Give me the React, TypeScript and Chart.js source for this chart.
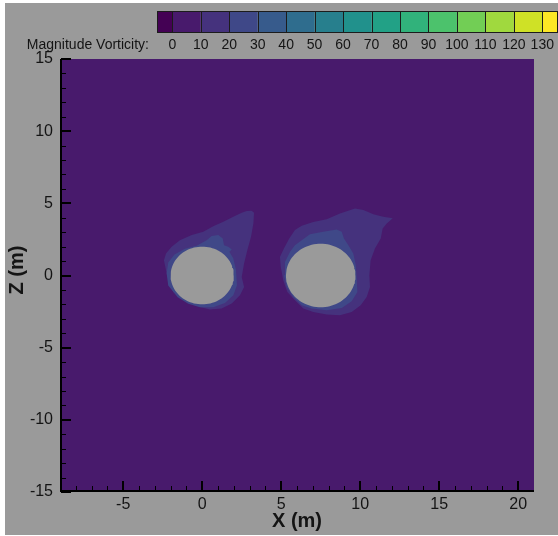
import { useEffect, useRef } from 'react';
import { Chart, registerables } from 'chart.js';

Chart.register(...registerables);

// Vorticity-magnitude contour levels shown on the colour bar
const levels = [0, 10, 20, 30, 40, 50, 60, 70, 80, 90, 100, 110, 120, 130];
// One colour below the first level, one per band, one above the last level
const levelColors = [
  '#440154', '#481a6c', '#45327d', '#3f4888', '#375b8c', '#2f6d8e', '#277f8d', '#21918c',
  '#22a186', '#31b27b', '#4cc26c', '#72ce55', '#a0d93e', '#cfe126', '#fde725',
];

// Axis extents and labelled ticks (metres)
const xRange = [-9, 21];
const zRange = [-15, 15];
const xTicks = [-5, 0, 5, 10, 15, 20];
const zTicks = [-15, -10, -5, 0, 5, 10, 15];

// Cylinders (no-data regions): centres [x, z] and radii
const cylinderCenters = [[0, 0], [7.5, 0]];
const cylinderRadii = [2, 2.2];

// Contour of the 10 band around the upstream cylinder
const wakeOuterA = [
  [3.13, 4.49], [3.28, 4.35], [3.24, 3.61], [3.09, 2.68], [2.86, 1.76], [2.65, 0.83], [2.5, -0.1],
  [2.65, -0.79], [2.39, -1.37], [1.87, -1.94], [1.23, -2.29], [0.49, -2.36], [-0.14, -2.18],
  [-0.77, -1.94], [-1.41, -1.53], [-1.83, -1.14], [-2.08, -0.56], [-2.25, 0.14], [-2.42, 1.06],
  [-2.29, 1.53], [-1.93, 1.99], [-1.41, 2.45], [-0.66, 2.8], [0.07, 3.03], [0.7, 3.42],
  [1.34, 3.72], [1.97, 4.07], [2.5, 4.35], [2.82, 4.47],
];
// Contour of the 20 band around the upstream cylinder
const wakeInnerA = [
  [0.28, 2.45], [0.6, 2.73], [1.02, 2.8], [1.3, 2.57], [1.38, 2.1], [1.65, 1.99], [1.87, 1.8],
  [1.72, 1.64], [1.97, 1.18], [2.14, 0.37], [2.2, -0.67], [1.97, -1.37], [1.44, -1.9],
  [0.7, -2.2], [-0.14, -2.2], [-0.88, -1.95], [-1.55, -1.5], [-2.15, -0.7], [-2.25, 0.14],
  [-2.15, 0.9], [-1.75, 1.45], [-1.09, 1.85], [-0.35, 2.06],
];
// Contour of the 10 band around the downstream cylinder
const wakeOuterB = [
  [6.3, 3.44], [7.03, 3.7], [7.88, 3.9], [8.72, 4.3], [9.67, 4.65], [10.2, 4.53], [10.83, 4.24],
  [11.46, 4.07], [12.06, 3.96], [11.68, 3.61], [11.42, 3.26], [11.3, 2.57], [10.94, 1.88],
  [10.66, 1.06], [10.58, 0.02], [10.62, -0.79], [10.41, -1.49], [10.03, -2.06], [9.46, -2.53],
  [8.72, -2.76], [7.88, -2.71], [7.03, -2.53], [6.4, -2.29], [5.87, -1.72], [5.39, -1.14],
  [5.13, -0.33], [4.97, 0.6], [4.92, 1.29], [5.18, 1.88], [5.51, 2.57], [5.87, 3.15],
];
// Contour of the 20 band around the downstream cylinder
const wakeInnerB = [
  [6.3, 2.45], [6.82, 2.85], [7.66, 3.03], [8.51, 3.19], [8.83, 3.03], [8.97, 2.57], [9.25, 2.1],
  [9.56, 1.53], [9.72, 0.72], [9.78, -0.21], [9.82, -1.14], [9.46, -1.78], [8.83, -2.25],
  [7.88, -2.41], [6.93, -2.29], [6.3, -2.06], [5.77, -1.49], [5.35, -0.79], [5.18, 0.02],
  [5.24, 0.94], [5.56, 1.64], [5.87, 2.1],
];

const FONT = '"Liberation Sans", Arial, Helvetica, sans-serif';
const TEXT = '#141414';
const PANEL = '#9a9a9a';

type Pt = { x: number; y: number };

const toPoints = (pts: number[][]): Pt[] => {
  const out = pts.map(([x, z]) => ({ x, y: z }));
  out.push({ ...out[0] });
  return out;
};

const circle = (cx: number, cz: number, r: number): Pt[] => {
  const out: Pt[] = [];
  for (let i = 0; i <= 96; i++) {
    const a = (i / 96) * Math.PI * 2;
    out.push({ x: cx + r * Math.cos(a), y: cz + r * Math.sin(a) });
  }
  return out;
};

const region = (data: Pt[], color: string, order: number) => ({
  type: 'scatter' as const,
  data,
  showLine: true,
  fill: 'shape',
  backgroundColor: color,
  borderColor: 'rgba(0,0,0,0)',
  borderWidth: 0,
  pointRadius: 0,
  tension: 0,
  order,
});

// Gray page panel, inward axis ticks, the vertical axis title and the colour legend
const framePlugin = {
  id: 'frame',
  beforeDraw(chart: any) {
    const { ctx, width, height } = chart;
    ctx.save();
    ctx.fillStyle = '#ffffff';
    ctx.fillRect(0, 0, width, height);
    ctx.fillStyle = PANEL;
    ctx.fillRect(5, 3, width - 5, height - 4);
    ctx.restore();
  },
  afterDatasetsDraw(chart: any) {
    const { ctx, chartArea: a, scales } = chart;
    const xs = scales.x;
    const ys = scales.y;
    const axisY = a.bottom - 1;
    const axisX = a.left + 1;
    ctx.save();
    ctx.strokeStyle = '#000000';
    const seg = (x1: number, y1: number, x2: number, y2: number) => {
      ctx.beginPath();
      ctx.moveTo(x1, y1);
      ctx.lineTo(x2, y2);
      ctx.stroke();
    };
    // minor ticks every metre
    ctx.lineWidth = 1;
    for (let v = Math.ceil(xRange[0]) + 1; v < xRange[1]; v++) {
      if (v % 5 === 0) continue;
      const px = Math.round(xs.getPixelForValue(v)) + 0.5;
      seg(px, axisY, px, axisY - 5);
    }
    for (let v = Math.ceil(zRange[0]) + 1; v < zRange[1]; v++) {
      if (v % 5 === 0) continue;
      const py = Math.round(ys.getPixelForValue(v)) + 0.5;
      seg(axisX, py, axisX + 5, py);
    }
    // major ticks at the labelled values
    ctx.lineWidth = 2;
    xTicks.forEach((v) => {
      const px = Math.round(xs.getPixelForValue(v));
      seg(px, axisY, px, axisY - 10);
    });
    zTicks.forEach((v) => {
      const py = Math.round(ys.getPixelForValue(v));
      seg(axisX, py, axisX + 10, py);
    });
    // axis lines
    seg(axisX, a.top, axisX, a.bottom);
    seg(a.left, axisY, a.right, axisY);

    // vertical axis title
    ctx.translate(17, 270);
    ctx.rotate(-Math.PI / 2);
    ctx.fillStyle = TEXT;
    ctx.font = `bold 20px ${FONT}`;
    ctx.textAlign = 'center';
    ctx.textBaseline = 'middle';
    ctx.fillText('Z (m)', 0, 0);
    ctx.restore();
  },
  afterDraw(chart: any) {
    const { ctx } = chart;
    const left = 157;
    const right = 557;
    const top = 11;
    const bottom = 32;
    const first = 172.3;
    const step = 28.46;
    const pos = (lv: number) => first + ((lv - levels[0]) / (levels[1] - levels[0])) * step;
    const edges = [left, ...levels.map(pos), right];
    ctx.save();
    for (let k = 0; k < levelColors.length; k++) {
      ctx.fillStyle = levelColors[k];
      ctx.fillRect(edges[k], top, edges[k + 1] - edges[k], bottom - top);
    }
    ctx.strokeStyle = '#1c1c1c';
    ctx.lineWidth = 1;
    for (let k = 0; k < levelColors.length; k++) {
      ctx.strokeRect(Math.round(edges[k]) + 0.5, top + 0.5, Math.round(edges[k + 1]) - Math.round(edges[k]), bottom - top);
    }
    ctx.fillStyle = TEXT;
    ctx.font = `14px ${FONT}`;
    ctx.textBaseline = 'middle';
    ctx.textAlign = 'right';
    ctx.fillText('Magnitude Vorticity:', 149, 45);
    ctx.textAlign = 'center';
    levels.forEach((lv) => ctx.fillText(String(lv), pos(lv), 45));
    ctx.restore();
  },
};

export default function App() {
  const ref = useRef<HTMLCanvasElement>(null);

  useEffect(() => {
    const canvas = ref.current;
    if (!canvas) return;

    const datasets: any[] = [
      region(
        toPoints([
          [xRange[0], zRange[0]], [xRange[1], zRange[0]], [xRange[1], zRange[1]], [xRange[0], zRange[1]],
        ]),
        levelColors[1],
        10,
      ),
      region(toPoints(wakeOuterA), levelColors[2], 9),
      region(toPoints(wakeOuterB), levelColors[2], 9),
      region(toPoints(wakeInnerA), levelColors[3], 8),
      region(toPoints(wakeInnerB), levelColors[3], 8),
      ...cylinderCenters.map(([cx, cz], i) => region(circle(cx, cz, cylinderRadii[i]), PANEL, 7)),
    ];

    const chart = new Chart(canvas, {
      type: 'scatter',
      data: { datasets },
      plugins: [framePlugin],
      options: {
        animation: false,
        responsive: false,
        devicePixelRatio: 1,
        events: [],
        layout: { padding: { top: 59, right: 24, left: 0, bottom: 0 } },
        plugins: {
          legend: { display: false },
          tooltip: { enabled: false },
        },
        scales: {
          x: {
            type: 'linear',
            position: 'bottom',
            min: xRange[0],
            max: xRange[1],
            afterFit: (s: any) => {
              s.height = 44;
            },
            afterBuildTicks: (s: any) => {
              s.ticks = xTicks.map((v) => ({ value: v }));
            },
            grid: { display: false, drawTicks: false },
            border: { display: false },
            ticks: {
              font: { family: FONT, size: 16 },
              color: TEXT,
              padding: 3,
              maxRotation: 0,
              autoSkip: false,
              callback: (v: any) => String(v),
            },
            title: {
              display: true,
              text: 'X (m)',
              font: { family: FONT, size: 20, weight: 'bold' },
              color: TEXT,
              padding: { top: 0, bottom: 3 },
            },
          },
          y: {
            type: 'linear',
            position: 'left',
            min: zRange[0],
            max: zRange[1],
            afterFit: (s: any) => {
              s.width = 60;
            },
            afterBuildTicks: (s: any) => {
              s.ticks = zTicks.map((v) => ({ value: v }));
            },
            grid: { display: false, drawTicks: false },
            border: { display: false },
            ticks: {
              font: { family: FONT, size: 16 },
              color: TEXT,
              padding: 7,
              autoSkip: false,
              callback: (v: any) => String(v),
            },
          },
        },
      } as any,
    });

    return () => chart.destroy();
  }, []);

  return (
    <div style={{ position: 'absolute', left: 0, top: 0, width: 558, height: 536 }}>
      <canvas ref={ref} width={558} height={536} style={{ display: 'block', width: 558, height: 536 }} />
    </div>
  );
}
